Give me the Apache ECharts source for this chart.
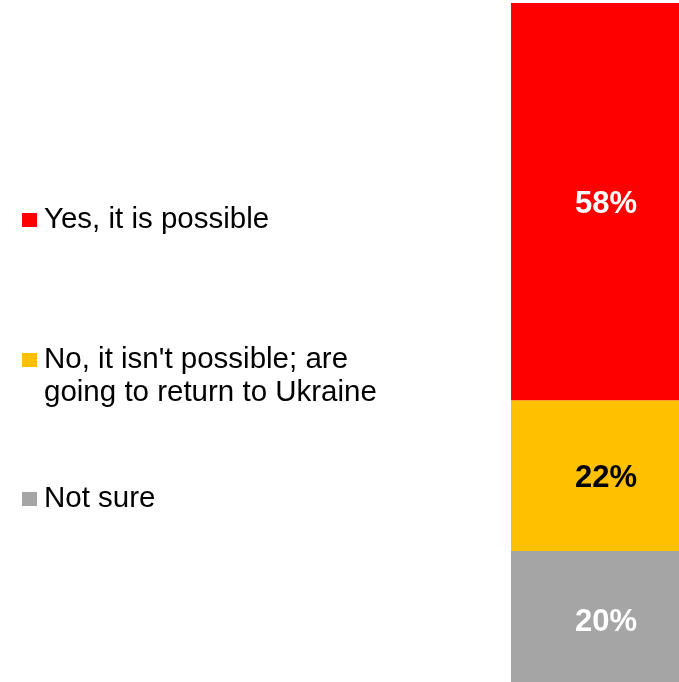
<!DOCTYPE html>
<html>
<head>
<meta charset="utf-8">
<script src="https://cdn.jsdelivr.net/npm/echarts@6/dist/echarts.min.js"></script>
<style>
html,body{margin:0;padding:0;background:#fff;}
#chart{width:679px;height:682px;}
</style>
</head>
<body>
<div id="chart"></div>
<script>
const categories = ['Total'];
const seriesNames = ['Yes, it is possible', "No, it isn't possible; are\ngoing to return to Ukraine", 'Not sure'];
const yesValues = [58];
const noValues = [22];
const notSureValues = [20];
const colors = ['#FF0000', '#FFC000', '#A5A5A5'];
const labelColors = ['#FFFFFF', '#000000', '#FFFFFF'];

const chart = echarts.init(document.getElementById('chart'));
const FONT = '"Liberation Sans", Arial, sans-serif';

function mkSeries(name, data, color, labelColor) {
  return {
    name: name,
    type: 'bar',
    stack: 'total',
    data: data,
    barWidth: '100%',
    itemStyle: { color: color },
    label: {
      show: true,
      position: 'inside',
      offset: [0, 3],
      formatter: '{c}%',
      color: labelColor,
      fontFamily: FONT,
      fontWeight: 'bold',
      fontSize: 31
    }
  };
}

function mkLegend(name, top, multi) {
  return {
    data: [name],
    left: 22,
    top: top,
    orient: 'vertical',
    padding: 0,
    icon: 'rect',
    itemWidth: 15,
    itemHeight: 14,
    formatter: multi ? function (n) { return '\n' + n; } : '{name}',
    textStyle: {
      fontFamily: FONT,
      fontSize: 29.5,
      color: '#000',
      lineHeight: 33,
      padding: [0, 0, 0, 2]
    }
  };
}

chart.setOption({
  animation: false,
  grid: { left: 511, top: 3, width: 190, height: 685, outerBoundsMode: 'none' },
  xAxis: { type: 'category', data: categories, show: false },
  yAxis: { type: 'value', min: 0, max: 100, show: false },
  legend: [
    mkLegend(seriesNames[0], 203.5, false),
    mkLegend(seriesNames[1], 310.5, true),
    mkLegend(seriesNames[2], 482.5, false)
  ],
  series: [
    mkSeries(seriesNames[2], notSureValues, colors[2], labelColors[2]),
    mkSeries(seriesNames[1], noValues, colors[1], labelColors[1]),
    mkSeries(seriesNames[0], yesValues, colors[0], labelColors[0])
  ]
});
</script>
</body>
</html>
